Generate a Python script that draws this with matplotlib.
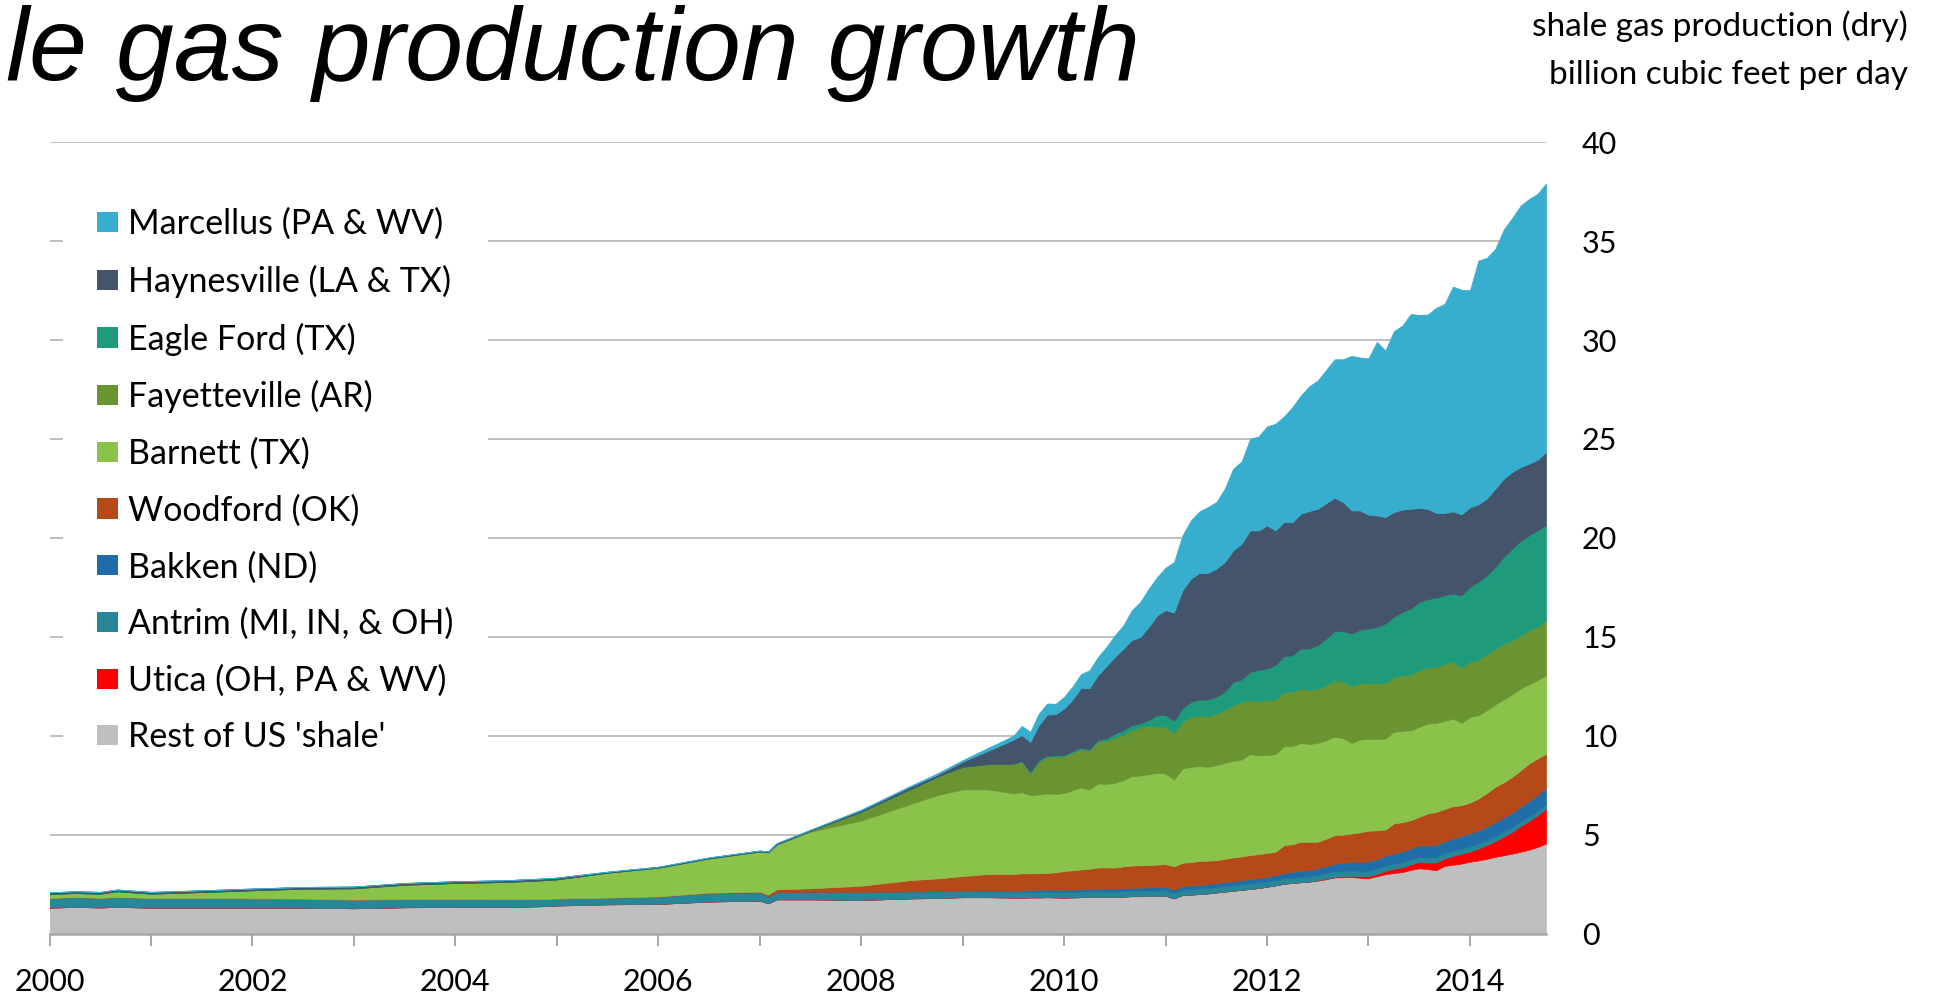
import matplotlib.pyplot as plt
from matplotlib.patches import Patch
import numpy as np

plt.rcParams['font.family'] = ['Lato', 'DejaVu Sans']

# time axis: months since Jan 2000 (sparse early, monthly from Sep 2009 to Oct 2014)
months = [0, 3, 6, 8, 12, 18, 24, 30, 36, 42, 48, 54, 58, 60,
          66, 72, 78, 84, 85, 86, 90, 96, 102, 105, 108, 111, 114, 115] + list(range(116, 178))
years = 2000 + np.array(months) / 12.0

# billion cubic feet per day, per play (stacked bottom -> top)
rest = [1.31, 1.35, 1.32, 1.35, 1.31, 1.31, 1.31, 1.31, 1.28, 1.33, 1.35, 1.35, 1.38, 1.42,
        1.48, 1.5, 1.62, 1.67, 1.53, 1.73, 1.73, 1.7, 1.78, 1.8, 1.84, 1.84, 1.82, 1.82] + \
       [1.83, 1.83, 1.84, 1.83, 1.82, 1.83, 1.84, 1.85, 1.86, 1.86, 1.85, 1.87, 1.89, 1.89, 1.9,
        1.9, 1.91, 1.78, 1.95, 1.97, 2.0, 2.03, 2.08, 2.12, 2.17, 2.21, 2.26, 2.3, 2.37, 2.44,
        2.52, 2.56, 2.6, 2.63, 2.68, 2.75, 2.84, 2.85, 2.86, 2.82, 2.8, 2.9, 3.0, 3.06, 3.11,
        3.22, 3.3, 3.26, 3.2, 3.42, 3.48, 3.54, 3.63, 3.7, 3.78, 3.88, 3.96, 4.04, 4.14, 4.24,
        4.38, 4.55]
utica = [0] * 28 + \
        [0] * 34 + \
        [0.02, 0.03, 0.03, 0.05, 0.07, 0.08, 0.1, 0.13, 0.17, 0.22, 0.24, 0.28, 0.32, 0.33,
         0.4, 0.38, 0.45, 0.5, 0.52, 0.6, 0.7, 0.8, 0.95, 1.1, 1.3, 1.45, 1.6, 1.76]
antrim = [0.49, 0.5, 0.49, 0.5, 0.49, 0.49, 0.47, 0.46, 0.44, 0.42, 0.41, 0.39, 0.37, 0.35,
          0.34, 0.37, 0.42, 0.42, 0.34, 0.36, 0.39, 0.39, 0.34, 0.33, 0.31, 0.3, 0.3, 0.3] + \
         [0.28, 0.28, 0.28, 0.28, 0.28, 0.28, 0.28, 0.28, 0.28, 0.28, 0.28, 0.28, 0.28, 0.28,
          0.28, 0.28, 0.28, 0.28, 0.28, 0.28, 0.28, 0.28, 0.28, 0.28, 0.28, 0.28, 0.28, 0.28,
          0.28, 0.27, 0.27, 0.27, 0.27, 0.27, 0.27, 0.27, 0.27, 0.27, 0.27, 0.27, 0.27, 0.26,
          0.26, 0.26, 0.26, 0.26, 0.26, 0.26, 0.26, 0.26, 0.26, 0.26, 0.26, 0.25, 0.25, 0.25,
          0.25, 0.25, 0.25, 0.25, 0.25, 0.25]
bakken = [0] * 21 + [0.01, 0.02, 0.02, 0.02, 0.04, 0.05, 0.05] + \
         [0.1, 0.1, 0.11, 0.11, 0.12, 0.12, 0.12, 0.13, 0.13, 0.14, 0.14, 0.15, 0.15, 0.15,
          0.16, 0.16, 0.17, 0.16, 0.17, 0.18, 0.18, 0.19, 0.19, 0.2, 0.2, 0.21, 0.21, 0.22,
          0.22, 0.24, 0.27, 0.29, 0.31, 0.32, 0.33, 0.36, 0.39, 0.42, 0.44, 0.45, 0.46, 0.48,
          0.5, 0.51, 0.53, 0.55, 0.58, 0.6, 0.62, 0.6, 0.62, 0.64, 0.66, 0.66, 0.68, 0.7,
          0.71, 0.72, 0.74, 0.76, 0.78, 0.8]
woodford = [0] * 15 + [0.01, 0.03, 0.03, 0.1, 0.15, 0.17, 0.32, 0.57, 0.64, 0.74, 0.83, 0.84, 0.88] + \
           [0.83, 0.84, 0.84, 0.88, 0.94, 0.97, 1.0, 1.02, 1.07, 1.06, 1.07, 1.1, 1.12, 1.13,
            1.12, 1.15, 1.15, 1.18, 1.18, 1.19, 1.21, 1.19, 1.16, 1.18, 1.2, 1.2, 1.22, 1.22,
            1.21, 1.18, 1.41, 1.4, 1.46, 1.42, 1.34, 1.39, 1.44, 1.41, 1.42, 1.5, 1.57, 1.45,
            1.33, 1.52, 1.49, 1.42, 1.44, 1.62, 1.67, 1.64, 1.63, 1.55, 1.55, 1.62, 1.69, 1.79,
            1.78, 1.81, 1.82, 1.9, 1.84, 1.74]
barnett = [0.2, 0.2, 0.21, 0.29, 0.22, 0.3, 0.41, 0.5, 0.57, 0.72, 0.8, 0.87, 0.94, 0.97,
           1.26, 1.45, 1.73, 2.02, 2.13, 2.24, 2.86, 3.29, 3.87, 4.21, 4.38, 4.28, 4.08, 4.1] + \
          [3.96, 3.98, 4.01, 3.95, 3.95, 4.05, 4.15, 4.0, 4.25, 4.23, 4.28, 4.36, 4.52, 4.54,
           4.6, 4.64, 4.58, 4.39, 4.76, 4.81, 4.79, 4.74, 4.8, 4.85, 4.88, 4.9, 5.1, 5.0,
           4.94, 4.94, 5.0, 4.95, 5.0, 4.94, 5.0, 4.98, 4.98, 4.87, 4.58, 4.69, 4.64, 4.62,
           4.6, 4.63, 4.62, 4.55, 4.55, 4.55, 4.5, 4.45, 4.43, 4.16, 4.34, 4.21, 4.19, 4.17,
           4.18, 4.18, 4.14, 4.01, 3.96, 3.96]
fayetteville = [0] * 17 + [0.01, 0.01, 0.04, 0.05, 0.45, 0.76, 0.93, 1.14, 1.28, 1.48, 1.55] + \
               [1.09, 1.65, 1.85, 1.9, 1.85, 1.9, 1.92, 1.96, 2.1, 2.17, 2.29, 2.3, 2.32, 2.43,
                2.46, 2.35, 2.36, 2.35, 2.36, 2.53, 2.53, 2.56, 2.61, 2.69, 2.81, 2.91, 2.73, 2.73,
                2.78, 2.76, 2.75, 2.75, 2.75, 2.72, 2.75, 2.78, 2.86, 2.86, 2.86, 2.86, 2.83, 2.8,
                2.81, 2.77, 2.81, 2.81, 2.86, 2.83, 2.83, 2.87, 2.87, 2.8, 2.78, 2.81, 2.83, 2.82,
                2.83, 2.73, 2.69, 2.72, 2.69, 2.78]
eagle_ford = [0] * 26 + [0.02, 0.03] + \
             [0.08, 0.08, 0.06, 0.06, 0.06, 0.07, 0.08, 0.08, 0.09, 0.12, 0.2, 0.22, 0.25, 0.2,
              0.27, 0.56, 0.59, 0.61, 0.68, 0.75, 0.84, 0.84, 0.85, 0.9, 1.18, 1.13, 1.43, 1.57,
              1.6, 1.74, 1.8, 1.85, 2.02, 2.11, 2.19, 2.35, 2.48, 2.56, 2.66, 2.69, 2.75, 2.86,
              3.0, 3.04, 3.2, 3.34, 3.45, 3.45, 3.5, 3.48, 3.44, 3.65, 3.78, 3.93, 3.99, 4.12,
              4.38, 4.63, 4.77, 4.8, 4.88, 4.8]
haynesville = [0.09, 0.09, 0.09, 0.09, 0.09, 0.09, 0.09, 0.09, 0.09, 0.09, 0.09, 0.09, 0.09, 0.09,
               0.05, 0.05, 0.05, 0.05, 0.05, 0.05, 0.05, 0.08, 0.12, 0.1, 0.26, 0.67, 1.21, 1.3] + \
              [1.52, 1.77, 2.08, 2.08, 2.36, 2.6, 3.03, 3.08, 3.28, 3.66, 3.87, 4.12, 4.3, 4.37,
               4.71, 5.05, 5.31, 5.48, 5.97, 6.23, 6.4, 6.4, 6.47, 6.56, 6.65, 6.87, 7.15, 7.06,
               7.23, 6.81, 6.78, 6.73, 6.81, 6.95, 6.89, 6.85, 6.74, 6.52, 6.23, 6.03, 5.75, 5.64,
               5.38, 5.3, 5.17, 5.04, 4.75, 4.57, 4.28, 4.16, 4.16, 4.09, 4.02, 3.92, 3.88, 3.96,
               3.95, 3.87, 3.73, 3.62, 3.57, 3.7]
marcellus = [0] * 21 + [0.03, 0.05, 0.07, 0.08, 0.15, 0.2, 0.47] + \
            [0.51, 0.59, 0.56, 0.53, 0.59, 0.67, 0.7, 0.91, 0.92, 0.97, 1.1, 1.18, 1.51, 1.77,
             1.93, 1.93, 2.15, 2.55, 2.78, 2.95, 3.11, 3.33, 3.37, 3.71, 4.13, 4.16, 4.63, 4.75,
             5.01, 5.39, 5.34, 5.81, 5.98, 6.31, 6.49, 6.74, 7.0, 7.22, 7.81, 7.73, 7.91, 8.77,
             8.42, 9.14, 9.3, 9.85, 9.76, 9.82, 10.37, 10.57, 11.37, 11.35, 10.98, 12.32, 12.17, 12.12,
             12.6, 12.84, 13.22, 13.38, 13.44, 13.58]

series = [rest, utica, antrim, bakken, woodford, barnett, fayetteville, eagle_ford, haynesville, marcellus]
labels = ["Rest of US 'shale'", 'Utica (OH, PA & WV)', 'Antrim (MI, IN, & OH)', 'Bakken (ND)',
          'Woodford (OK)', 'Barnett (TX)', 'Fayetteville (AR)', 'Eagle Ford (TX)',
          'Haynesville (LA & TX)', 'Marcellus (PA & WV)']
colors = ['#BFBFBF', '#FF0000', '#268799', '#1F6EA8', '#B5491A', '#8BC249', '#6A9332',
          '#1E9B7B', '#44546A', '#37AECE']

W, H = 1939, 998
fig = plt.figure(figsize=(W / 100, H / 100), dpi=100)
ax = fig.add_axes([49.5 / W, 64.4 / H, (1546 - 49.5) / W, (933.6 - 142.2) / H])

polys = ax.stackplot(years, *series, colors=colors, linewidth=0.5)
for p, c in zip(polys, colors):
    p.set_edgecolor(c)

ax.set_xlim(2000, 2014.75)
ax.set_ylim(0, 40)
ax.set_yticks(range(0, 41, 5))
ax.yaxis.grid(True, color='#BFBFBF', linewidth=1.4)
ax.set_axisbelow(True)

xt = list(range(2000, 2015))
ax.set_xticks(xt)
ax.set_xticklabels([str(y) if y % 2 == 0 else '' for y in xt])

for s in ['top', 'left', 'right']:
    ax.spines[s].set_visible(False)
ax.spines['bottom'].set_color('#A6A6A6')
ax.spines['bottom'].set_linewidth(1.8)

ax.yaxis.tick_right()
ax.tick_params(axis='y', length=0, pad=26, labelsize=22)
ax.tick_params(axis='x', length=8.5, width=1.4, color='#A6A6A6', pad=16, labelsize=22)

# the slide title runs off the left edge of the crop; only this part is visible
fig.text(1140 / W, 1 - 80 / H, 'le gas production growth', ha='right', va='baseline',
         fontsize=75, style='italic', family='Liberation Sans')
fig.text(1908 / W, 1 - 26 / H, 'shale gas production (dry)', ha='right', va='center', fontsize=24)
fig.text(1908 / W, 1 - 75.5 / H, 'billion cubic feet per day', ha='right', va='center', fontsize=24)

handles = [Patch(facecolor=c, edgecolor='none') for c in colors[::-1]]
ax.legend(handles, labels[::-1], loc='upper left', bbox_to_anchor=(63 / W, 1 - 174 / H),
          bbox_transform=fig.transFigure, frameon=True, fancybox=False, edgecolor='none',
          facecolor='white', framealpha=1, borderpad=1.0, borderaxespad=0,
          handlelength=0.62, handleheight=0.54, handletextpad=0.3, labelspacing=0.72,
          prop={'size': 24.5})

fig.savefig('out.png', dpi=100)
